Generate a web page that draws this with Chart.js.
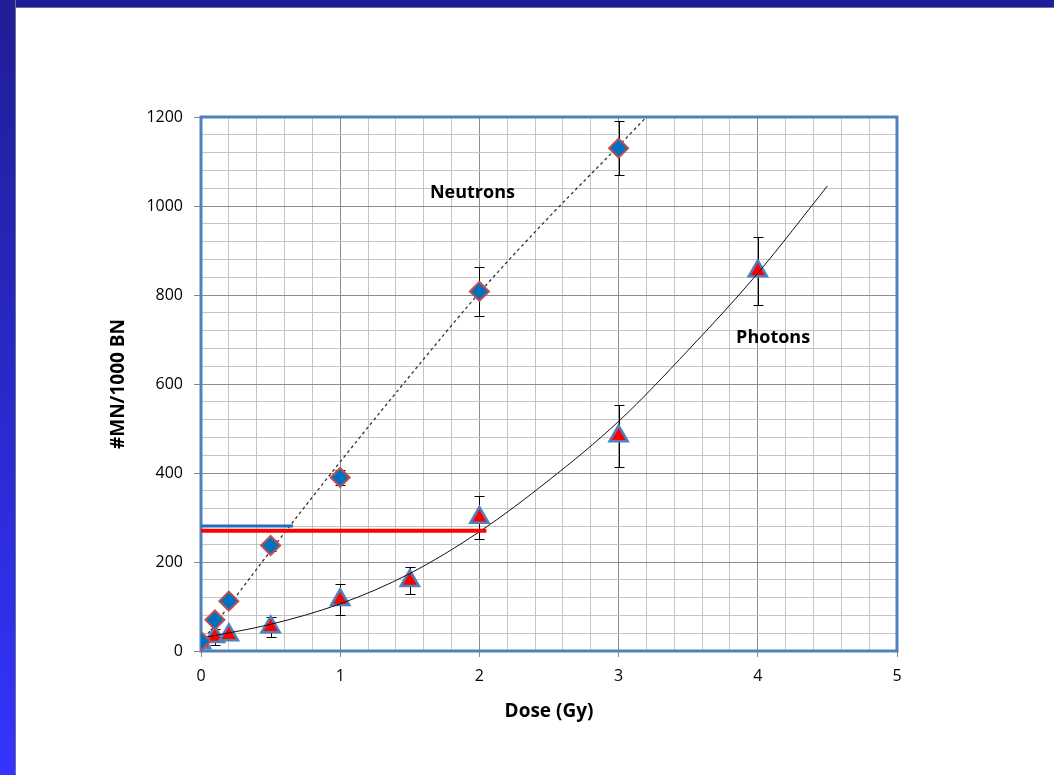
<!DOCTYPE html>
<html>
<head>
<meta charset="utf-8">
<script src="https://cdn.jsdelivr.net/npm/chart.js@4.4.1/dist/chart.umd.min.js"></script>
<style>
  body { margin: 0; background: #ffffff; }
  #frame-top { position: absolute; left: 0; top: 0; width: 1054px; height: 7px; background: #1e1e9a; border-bottom: 1px solid #707090; }
  #frame-left { position: absolute; left: 0; top: 0; width: 15px; height: 775px; background: linear-gradient(#1e1e96, #3434ff); border-right: 1px solid #707090; }
  #plot { position: absolute; left: 0; top: 0; }
</style>
</head>
<body>
<div id="frame-top"></div>
<div id="frame-left"></div>
<canvas id="plot" width="1054" height="775"></canvas>
<script>
// measured points
const neutronDose = [0, 0.1, 0.2, 0.5, 1, 2, 3];
const neutronMN = [22, 70, 112, 237, 390, 808, 1130];
const neutronErr = [0, 0, 0, 12, 16, 55, 60];

const photonDose = [0, 0.1, 0.2, 0.5, 1, 1.5, 2, 3, 4];
const photonMN = [18, 32, 36, 54, 115, 158, 300, 483, 854];
const photonErr = [0, 18, 10, 22, 35, 30, 48, 70, 76];

// fitted curves
const neutronFitDose = [0, 0.5, 1, 1.5, 2, 2.5, 3, 3.2];
const neutronFitMN = [18, 225, 425, 618, 805, 975, 1135, 1200];
const photonFitDose = [0, 0.5, 1, 1.5, 2, 2.5, 3, 3.5, 4, 4.5];
const photonFitMN = [29, 60, 106, 174, 268, 384, 516, 676, 849, 1045];

// equal-effect reference lines
const blueLineDose = [0, 0.66];
const blueLineMN = [281, 281];
const redLineDose = [0, 2.05];
const redLineMN = [270, 270];

const xTickLabels = [0, 1, 2, 3, 4, 5];
const yTickLabels = [0, 200, 400, 600, 800, 1000, 1200];

const textLabels = [
  { text: "Neutrons", x: 1.95, y: 1029 },
  { text: "Photons", x: 4.11, y: 703 },
];

function toPoints(xs, ys) {
  return xs.map((x, i) => ({ x: x, y: ys[i] }));
}

function isMajor(value, list) {
  return list.some((t) => Math.abs(t - value) < 1e-6);
}

// error bars go under the markers
const errorBarPlugin = {
  id: "error_bars",
  beforeDatasetsDraw: (chart) => {
    const ctx = chart.ctx;
    const xs = chart.scales.x;
    const ys = chart.scales.y;
    ctx.save();
    ctx.strokeStyle = "#000000";
    ctx.lineWidth = 1;
    chart.data.datasets.forEach((ds) => {
      if (!ds.errors) return;
      ds.data.forEach((p, i) => {
        if (!ds.errors[i]) return;
        const px = Math.round(xs.getPixelForValue(p.x)) + 0.5;
        const top = Math.round(ys.getPixelForValue(p.y + ds.errors[i])) + 0.5;
        const bot = Math.round(ys.getPixelForValue(p.y - ds.errors[i])) + 0.5;
        ctx.beginPath();
        ctx.moveTo(px, top);
        ctx.lineTo(px, bot);
        ctx.moveTo(px - 5, top);
        ctx.lineTo(px + 5, top);
        ctx.moveTo(px - 5, bot);
        ctx.lineTo(px + 5, bot);
        ctx.stroke();
      });
    });
    ctx.restore();
  },
};

const frameAndTextPlugin = {
  id: "frame_and_text",
  beforeDatasetsDraw: (chart) => {
    const a = chart.chartArea;
    const ctx = chart.ctx;
    ctx.save();
    ctx.strokeStyle = "#4f81bd";
    ctx.lineWidth = 3;
    ctx.strokeRect(a.left, a.top, a.right - a.left, a.bottom - a.top);
    ctx.restore();
  },
  afterDraw: (chart) => {
    const ctx = chart.ctx;
    ctx.save();
    ctx.fillStyle = "#000000";
    ctx.font = "bold 18px 'Open Sans'";
    ctx.textAlign = "center";
    ctx.textBaseline = "middle";
    textLabels.forEach((l) => {
      ctx.fillText(
        l.text,
        chart.scales.x.getPixelForValue(l.x),
        chart.scales.y.getPixelForValue(l.y)
      );
    });
    ctx.restore();
  },
};

Chart.defaults.font.family = "'Open Sans', sans-serif";
Chart.defaults.color = "#000000";

// dataset 0 is drawn on top
const config = {
  type: "scatter",
  plugins: [errorBarPlugin, frameAndTextPlugin],
  data: {
    datasets: [
      {
        data: toPoints(redLineDose, redLineMN),
        showLine: true,
        borderColor: "#ff0000",
        borderWidth: 4,
        pointRadius: 0,
      },
      {
        data: toPoints(blueLineDose, blueLineMN),
        showLine: true,
        borderColor: "#1f6fbf",
        borderWidth: 3,
        pointRadius: 0,
      },
      {
        data: toPoints(neutronDose, neutronMN),
        errors: neutronErr,
        pointStyle: "rectRot",
        pointRadius: 9.5,
        pointBackgroundColor: "#0070c0",
        pointBorderColor: "#c0504d",
        pointBorderWidth: 2,
      },
      {
        data: toPoints(photonFitDose, photonFitMN),
        showLine: true,
        borderColor: "#111111",
        borderWidth: 1,
        pointRadius: 0,
        cubicInterpolationMode: "monotone",
      },
      {
        data: toPoints(neutronFitDose, neutronFitMN),
        showLine: true,
        borderColor: "#333333",
        borderWidth: 1.3,
        borderDash: [3, 3],
        pointRadius: 0,
        cubicInterpolationMode: "monotone",
      },
      {
        data: toPoints(photonDose, photonMN),
        errors: photonErr,
        pointStyle: "triangle",
        pointRadius: 10.5,
        pointBackgroundColor: "#ff0000",
        pointBorderColor: "#4f81bd",
        pointBorderWidth: 2.5,
      },
    ],
  },
  options: {
    responsive: false,
    animation: false,
    devicePixelRatio: 1,
    layout: {
      padding: { left: 100, top: 117, right: 157, bottom: 52 },
    },
    plugins: {
      legend: { display: false },
      tooltip: { enabled: false },
    },
    scales: {
      x: {
        type: "linear",
        min: 0,
        max: 5,
        afterFit: (scale) => {
          scale.height = 72;
        },
        border: { display: false },
        grid: {
          color: (c) => (isMajor(c.tick.value, xTickLabels) ? "#8c8c8c" : "#c4c4c4"),
          tickColor: (c) => (isMajor(c.tick.value, xTickLabels) ? "#888888" : "rgba(0,0,0,0)"),
          tickLength: 6,
        },
        ticks: {
          stepSize: 0.2,
          autoSkip: false,
          maxRotation: 0,
          padding: 10,
          font: { size: 16 },
          callback: (v) => (isMajor(v, xTickLabels) ? Math.round(v) : ""),
        },
        title: {
          display: true,
          text: "Dose (Gy)",
          font: { size: 19, weight: "bold" },
          padding: { top: 0, bottom: 0 },
        },
      },
      y: {
        type: "linear",
        min: 0,
        max: 1200,
        afterFit: (scale) => {
          scale.width = 101;
        },
        border: { display: false },
        grid: {
          color: (c) => (isMajor(c.tick.value, yTickLabels) ? "#8c8c8c" : "#c4c4c4"),
          tickColor: (c) => (isMajor(c.tick.value, yTickLabels) ? "#888888" : "rgba(0,0,0,0)"),
          tickLength: 7,
        },
        ticks: {
          stepSize: 40,
          autoSkip: false,
          padding: 11,
          font: { size: 16 },
          callback: (v) => (isMajor(v, yTickLabels) ? v : ""),
        },
        title: {
          display: true,
          text: "#MN/1000 BN",
          font: { size: 19, weight: "bold" },
          padding: { top: 7, bottom: 0 },
        },
      },
    },
  },
};

const canvas = document.getElementById("plot");
const chart = new Chart(canvas.getContext("2d"), config);
</script>
</body>
</html>
